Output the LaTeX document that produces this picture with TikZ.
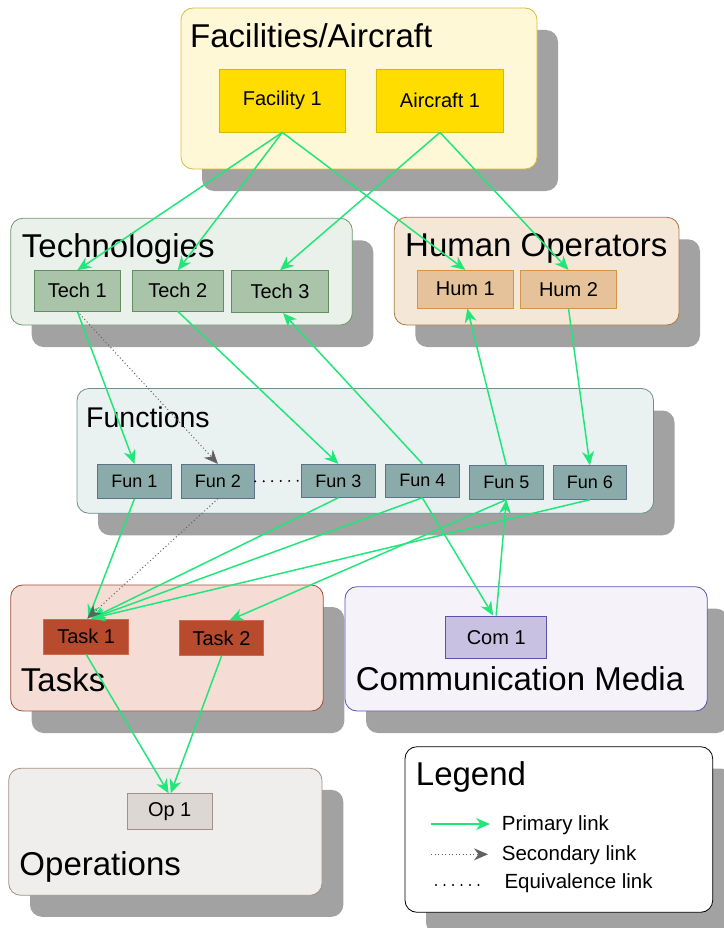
\documentclass[tikz,border=0pt]{standalone}
\usepackage{fontspec}
\setmainfont{Liberation Sans}
\usetikzlibrary{arrows.meta}
\definecolor{shadowgray}{HTML}{A2A2A2}
\definecolor{linkgreen}{HTML}{22E67A}
\definecolor{facfill}{HTML}{FFF8D6}
\definecolor{facdraw}{HTML}{D9BC3A}
\definecolor{facbox}{HTML}{FFDD00}
\definecolor{facboxdraw}{HTML}{D8B800}
\definecolor{tecfill}{HTML}{EAF1EA}
\definecolor{tecdraw}{HTML}{6E986E}
\definecolor{tecbox}{HTML}{A9C4A9}
\definecolor{tecboxdraw}{HTML}{5F8F5F}
\definecolor{humfill}{HTML}{F5E7D8}
\definecolor{humdraw}{HTML}{A8773F}
\definecolor{humbox}{HTML}{E6C29A}
\definecolor{humboxdraw}{HTML}{D4924A}
\definecolor{funfill}{HTML}{EAF1F1}
\definecolor{fundraw}{HTML}{6F8F8F}
\definecolor{funbox}{HTML}{8BABAB}
\definecolor{funboxdraw}{HTML}{5D7288}
\definecolor{tskfill}{HTML}{F5DDD6}
\definecolor{tskdraw}{HTML}{A0503A}
\definecolor{tskbox}{HTML}{B84A2E}
\definecolor{tskboxdraw}{HTML}{CC6A50}
\definecolor{comfill}{HTML}{F5F3F9}
\definecolor{comdraw}{HTML}{5B52B0}
\definecolor{combox}{HTML}{C9C1E2}
\definecolor{opsfill}{HTML}{F0EEEC}
\definecolor{opsdraw}{HTML}{A09088}
\definecolor{opsbox}{HTML}{DDD7D3}
\definecolor{seclink}{HTML}{606060}
\begin{document}
\begin{tikzpicture}[x=1pt,y=-1pt,
  shadowbox/.style={fill=shadowgray, rounded corners=12pt},
  groupbox/.style={line width=0.8pt, rounded corners=12pt},
  inbox/.style={draw, line width=0.8pt, inner sep=0pt, font=\fontsize{20}{24}\selectfont},
  funbx/.style={inbox, fill=funbox, draw=funboxdraw, minimum width=73.8pt, minimum height=33.6pt, font=\fontsize{18}{22}\selectfont},
  grouptitle/.style={anchor=base west, inner sep=0pt, font=\fontsize{33}{38}\selectfont},
  legtext/.style={anchor=base west, inner sep=0pt, font=\fontsize{20.5}{24}\selectfont},
  prim/.style={draw=linkgreen, line width=1.5pt, -{Stealth[length=14pt,width=12pt,inset=4.5pt]}},
  sec/.style={draw=seclink, line width=1pt, dash pattern=on 1pt off 2.5pt, -{Stealth[length=14pt,width=12pt,inset=4.5pt,fill=seclink]}},
  equiv/.style={draw=black, line width=2.2pt, line cap=round, dash pattern=on 0pt off 8.5pt}
]
\useasboundingbox (0,0) rectangle (723,928);
% shadows
\fill[shadowbox] (202,30) rectangle (558,191);
\fill[shadowbox] (31.7,240.3) rectangle (373.3,347);
\fill[shadowbox] (415.3,239.3) rectangle (700,347);
\fill[shadowbox] (98,410.5) rectangle (674.5,535.3);
\fill[shadowbox] (31.7,607) rectangle (344.3,733);
\fill[shadowbox] (366,608.7) rectangle (728.3,733);
\fill[shadowbox] (30,789.8) rectangle (343.3,916.8);
\fill[shadowbox] (426,768.7) rectangle (733.7,934.3);
% groups
\draw[groupbox, fill=facfill, draw=facdraw] (181,8) rectangle (537,169);
\draw[groupbox, fill=tecfill, draw=tecdraw] (10.7,218.3) rectangle (352.3,325);
\draw[groupbox, fill=humfill, draw=humdraw] (394.3,217.3) rectangle (679,325);
\draw[groupbox, fill=funfill, draw=fundraw] (77,388.5) rectangle (653.5,513.3);
\draw[groupbox, fill=tskfill, draw=tskdraw] (10.7,585) rectangle (323.3,711);
\draw[groupbox, fill=comfill, draw=comdraw] (345,586.7) rectangle (707.3,711);
\draw[groupbox, fill=opsfill, draw=opsdraw] (8.7,768.3) rectangle (322,895.3);
\draw[groupbox, fill=white, draw=black] (405,746.7) rectangle (712.7,912.3);
% titles
\node[grouptitle] (tfac) at (190,47.7) {Facilities/Aircraft};
\node[grouptitle] (ttec) at (21.7,257.7) {Technologies};
\node[grouptitle] (thum) at (405,256.7) {Human Operators};
\node[grouptitle, font=\fontsize{28.5}{34}\selectfont] (tfun) at (86,427.7) {Functions};
\node[grouptitle] (ttsk) at (20.7,691.7) {Tasks};
\node[grouptitle] (tcom) at (355.7,690.7) {Communication Media};
\node[grouptitle] (tops) at (19.3,875) {Operations};
\node[grouptitle] (tleg) at (415.7,785) {Legend};
% inner boxes
\node[inbox, fill=facbox, draw=facboxdraw, minimum width=126.7pt, minimum height=63pt] (f1) at (282.3,100.5) {Facility 1};
\node[inbox, fill=facbox, draw=facboxdraw, minimum width=126.7pt, minimum height=63pt] (a1) at (440,100.5) {Aircraft 1};
\node[inbox, fill=tecbox, draw=tecboxdraw, minimum width=86.7pt, minimum height=40.3pt] (tech1) at (77.3,290.8) {Tech 1};
\node[inbox, fill=tecbox, draw=tecboxdraw, minimum width=91pt, minimum height=40.3pt] (tech2) at (177.8,290.8) {Tech 2};
\node[inbox, fill=tecbox, draw=tecboxdraw, minimum width=97.4pt, minimum height=42pt] (tech3) at (280,291.7) {Tech 3};
\node[inbox, fill=humbox, draw=humboxdraw, minimum width=96.7pt, minimum height=37.7pt] (hum1) at (465.3,289.2) {Hum 1};
\node[inbox, fill=humbox, draw=humboxdraw, minimum width=96.4pt, minimum height=37.7pt] (hum2) at (568.5,289.2) {Hum 2};
\node[funbx, minimum height=34pt] (fun1) at (134.5,481.3) {Fun 1};
\node[funbx, minimum height=34pt] (fun2) at (217.9,481.3) {Fun 2};
\node[funbx, minimum height=33pt] (fun3) at (338.5,480.8) {Fun 3};
\node[funbx, minimum height=33.3pt] (fun4) at (422.3,480.7) {Fun 4};
\node[funbx] (fun5) at (506.3,482.5) {Fun 5};
\node[funbx] (fun6) at (589.9,482.5) {Fun 6};
\node[inbox, fill=tskbox, draw=tskboxdraw, minimum width=85pt, minimum height=35pt] (task1) at (86.2,636.5) {Task 1};
\node[inbox, fill=tskbox, draw=tskboxdraw, minimum width=84.4pt, minimum height=35pt] (task2) at (221.5,638.2) {Task 2};
\node[inbox, fill=combox, draw=comdraw, minimum width=101pt, minimum height=42.7pt] (com1) at (496.2,637.3) {Com 1};
\node[inbox, fill=opsbox, draw=opsdraw, minimum width=84.7pt, minimum height=35.6pt] (op1) at (169.7,811.5) {Op 1};
% primary links
\draw[prim] (f1.south) -- (tech1.north);
\draw[prim] (f1.south) -- (tech2.north);
\draw[prim] (f1.south) -- (hum1.north);
\draw[prim] (a1.south) -- (tech3.north);
\draw[prim] (a1.south) -- (hum2.north);
\draw[prim] (tech1.south) -- (fun1.north);
\draw[prim] (tech2.south) -- (fun3.north);
\draw[prim] (fun4.north) -- ([xshift=3pt]tech3.south);
\draw[prim] (fun5.north) -- ([xshift=2pt]hum1.south);
\draw[prim] (hum2.south) -- (fun6.north);
\draw[prim] (fun1.south) -- ([xshift=2pt]task1.north);
\draw[prim] (fun3.south) -- ([xshift=5pt]task1.north);
\draw[prim] (fun4.south) -- ([xshift=5pt]task1.north);
\draw[prim] (fun6.south) -- ([xshift=5pt]task1.north);
\draw[prim] (fun5.south) -- ([xshift=8pt]task2.north);
\draw[prim] (fun4.south) -- ([xshift=-3pt]com1.north);
\draw[prim] (com1.north) -- (fun5.south);
\draw[prim] (task1.south) -- ([xshift=-1pt]op1.north);
\draw[prim] (task2.south) -- ([xshift=1pt]op1.north);
% secondary links
\draw[sec] (tech1.south) -- (fun2.north);
\draw[sec] (fun2.south) -- ([xshift=1pt]task1.north);
% equivalence link
\draw[equiv] (fun2.east) -- (fun3.west);
% legend
\coordinate (lp1) at (431,824);
\coordinate (lp2) at (490,824);
\coordinate (ls1) at (431,854.3);
\coordinate (ls2) at (488,854.3);
\coordinate (le1) at (436,885);
\coordinate (le2) at (482,885);
\draw[prim] (lp1) -- (lp2);
\draw[sec] (ls1) -- (ls2);
\draw[equiv] (le1) -- (le2);
\node[legtext] (lpt) at (501.7,830.7) {Primary link};
\node[legtext] (lst) at (501.7,860) {Secondary link};
\node[legtext] (let) at (504.3,888.3) {Equivalence link};
\end{tikzpicture}
\end{document}
